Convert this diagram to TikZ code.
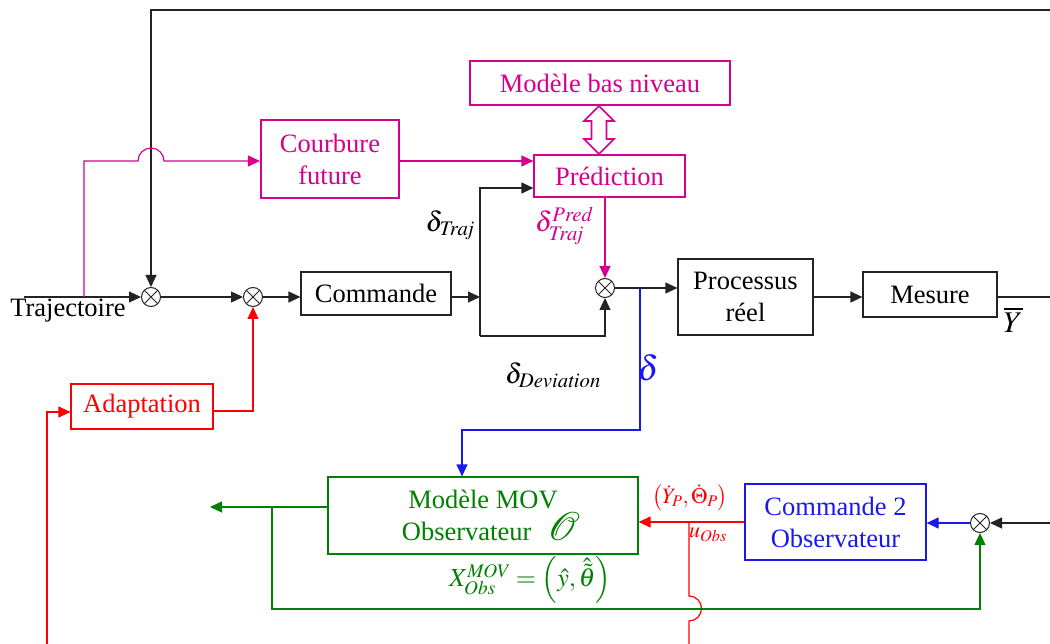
\documentclass[tikz,border=0pt]{standalone}
\usepackage{mathptmx}
\usepackage{fontspec}
\setmainfont{Liberation Serif}
\usetikzlibrary{arrows.meta,calc}
\definecolor{mag}{RGB}{214,0,140}
\definecolor{rred}{RGB}{255,0,0}
\definecolor{bblue}{RGB}{25,25,235}
\definecolor{ggreen}{RGB}{0,128,0}
\definecolor{blk}{RGB}{35,35,35}
\begin{document}
\begin{tikzpicture}[x=1pt,y=-1pt,
  box/.style={draw, rectangle, inner sep=0pt, align=center, line width=1.2pt,
    font=\fontsize{26.5}{32}\selectfont},
  sumj/.style={circle, draw=blk, line width=1pt, minimum size=19pt, inner sep=0pt, fill=white,
    path picture={\draw[line width=0.8pt,blk]
      (path picture bounding box.north west)--(path picture bounding box.south east)
      (path picture bounding box.north east)--(path picture bounding box.south west);}},
  wire/.style={line width=1.2pt},
  conn/.style={line width=1.2pt, -{Triangle[length=12pt,width=11pt]}},
  mlbl/.style={inner sep=0pt, font=\fontsize{28}{32}\selectfont},
  slbl/.style={inner sep=0pt, font=\fontsize{22}{26}\selectfont}]
\useasboundingbox (0,0) rectangle (1050,644);

% blocks
\node[box, draw=mag, text=mag, line width=2.2pt, minimum width=138pt, minimum height=78pt] (courb) at (330,159) {Courbure\\future};
\node[box, draw=mag, text=mag, minimum width=151pt, minimum height=42pt] (pred) at (609.5,176) {Prédiction};
\node[box, draw=mag, text=mag, minimum width=260pt, minimum height=44pt] (mbn) at (600,83) {Modèle bas niveau};
\node[box, draw=blk, minimum width=150pt, minimum height=43pt] (cmd) at (376,293.5) {Commande};
\node[box, draw=blk, minimum width=135pt, minimum height=76pt] (proc) at (745.5,297) {Processus\\réel};
\node[box, draw=blk, minimum width=134pt, minimum height=45pt] (mes) at (930,294.5) {Mesure};
\node[box, draw=rred, text=rred, minimum width=142pt, minimum height=45pt] (adapt) at (142,406.5) {Adaptation};
\node[box, draw=ggreen, text=ggreen, minimum width=310pt, minimum height=77pt] (mov) at (483,515.5)
  {Modèle MOV\\\hspace*{16pt}Observateur\hspace{16pt}{\fontsize{40}{32}\selectfont$\mathcal{O}$}};
\node[box, draw=bblue, text=bblue, minimum width=181pt, minimum height=76pt] (cmd2) at (835.5,522) {Commande 2\\Observateur};

% summing junctions
\node[sumj] (s1) at (151,297) {};
\node[sumj] (s2) at (253,297) {};
\node[sumj] (s3) at (605,288) {};
\node[sumj] (s4) at (980,523) {};

% free ends / bends
\coordinate (tin) at (24,297);
\coordinate (tb) at (84,297);
\coordinate (topR) at (1050,10);
\coordinate (yout) at (1050,297);
\coordinate (s4in) at (1050,523);
\coordinate (j1) at (480,297);
\coordinate (jt) at (480,188);
\coordinate (jb) at (480,336);
\coordinate (bb) at (640,288);
\coordinate (gout) at (210,507);
\coordinate (gb) at (272,507);
\coordinate (redbot) at (47,644);
\coordinate (rb) at (689,522);
\coordinate (redbot2) at (689,644);

% black connectors
\draw[conn, blk] (tin) -- (s1);
\draw[conn, blk] (topR) -| (s1);
\draw[conn, blk] (s1) -- (s2);
\draw[conn, blk] (s2) -- (s2 -| cmd.west);
\draw[conn, blk] (j1 -| cmd.east) -- (j1);
\draw[conn, blk] (jb) -- (jt) -- (jt -| pred.west);
\draw[conn, blk] (jb) -| (s3);
\draw[conn, blk] (s3) -- (s3 -| proc.west);
\draw[conn, blk] (proc.east) -- (proc.east -| mes.west);
\draw[wire, blk] (yout -| mes.east) -- (yout);
\draw[conn, blk] (s4in) -- (s4);

% magenta connectors
\draw[conn, mag] (tb) -- (84,161) -- (138,161) arc[start angle=180, end angle=0, radius=13pt] -- (courb.west |- 0,161);
\draw[conn, mag] (courb.east |- 0,161) -- (pred.west |- 0,161);
\draw[conn, mag] (pred.south -| s3) -- (s3);
\draw[mag, line width=1.6pt, fill=white] (599,106) -- (614,121) -- (606.5,121) -- (606.5,139) -- (614,139) -- (599,154)
  -- (584,139) -- (591.5,139) -- (591.5,121) -- (584,121) -- cycle;

% red connectors
\draw[conn, rred] (redbot) |- (adapt.west |- 0,412);
\draw[conn, rred] (adapt.east |- 0,411) -| (s2);
\draw[conn, rred] (cmd2.west) -- (cmd2.west -| mov.east);
\draw[wire, rred] (rb) -- (689,596) arc[start angle=90, end angle=-90, radius=12.5pt] -- (redbot2);

% blue connectors
\draw[conn, bblue] (bb) -- (640,430) -- (462,430) -- (462,430 |- mov.north);
\draw[conn, bblue] (s4) -- (s4 -| cmd2.east);

% green connectors
\draw[conn, ggreen] (gb -| mov.west) -- (gout);
\draw[conn, ggreen] (gb) -- (272,609) -| (s4);

% labels
\node[mlbl, text=black] (lt) at (450,225) {$\delta_{\mathit{Traj}}$};
\node[mlbl, text=mag] (lp) at (564,226) {$\delta_{\mathit{Traj}}^{\mathit{Pred}}$};
\node[mlbl, text=black] (ld) at (553,375) {$\delta_{\mathit{Deviation}}$};
\node[mlbl, text=bblue, font=\fontsize{35}{36}\selectfont] (lb) at (648,368) {$\delta$};
\node[mlbl, text=black, font=\fontsize{30}{32}\selectfont] (ly) at (1013,320) {$\overline{Y}$};
\node[slbl, text=rred] (lyp) at (690,498) {$\left(\dot{Y}_P,\dot{\Theta}_P\right)$};
\node[slbl, text=rred] (lu) at (708,535) {$u_{\mathit{Obs}}$};
\node[mlbl, text=ggreen, font=\fontsize{26}{30}\selectfont] (lx) at (530,580) {$X_{\mathit{Obs}}^{\mathit{MOV}}=\left(\hat{y},\hat{\tilde{\theta}}\right)$};
\node[inner sep=0pt, font=\fontsize{26.5}{32}\selectfont, text=black] (ltraj) at (68,311) {Trajectoire};
\end{tikzpicture}
\end{document}
